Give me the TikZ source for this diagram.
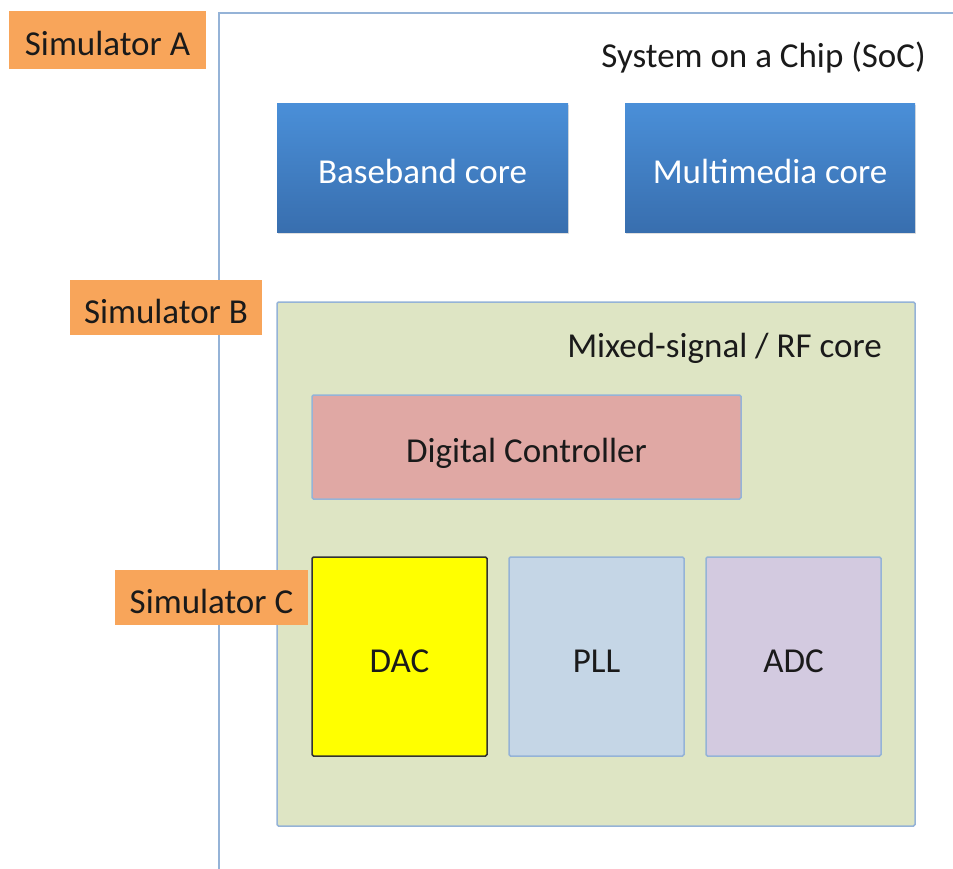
\documentclass[tikz,border=0pt]{standalone}
\usepackage{fontspec}
\setmainfont{Carlito}
\usetikzlibrary{shadows}
\definecolor{frameblue}{HTML}{95B3D7}
\definecolor{simorange}{HTML}{F8A55A}
\definecolor{mixgreen}{HTML}{DEE5C4}
\definecolor{ctrlpink}{HTML}{E0A8A4}
\definecolor{pllblue}{HTML}{C5D6E6}
\definecolor{adcpurple}{HTML}{D3CAE0}
\definecolor{coretop}{HTML}{4A8FD8}
\definecolor{corebot}{HTML}{386EAE}
\definecolor{dacyellow}{RGB}{255,255,0}
\definecolor{txt}{HTML}{1A1A1A}
\begin{document}
\begin{tikzpicture}[x=1pt,y=-1pt,
  capc/.style={text height=22.5pt, text depth=0pt},
  boxc/.style={text height=31pt, text depth=0pt},
  sim/.style={boxc, fill=simorange, draw=none, inner sep=0pt, font=\fontsize{35}{38}\selectfont, text=txt},
  core/.style={boxc, top color=coretop, bottom color=corebot, draw=none, text=white, inner sep=0pt,
    font=\fontsize{35}{38}\selectfont, drop shadow={opacity=0.25, shadow xshift=1pt, shadow yshift=-1.5pt}},
  blk/.style={boxc, draw=frameblue, line width=1.5pt, rounded corners=1.5pt, inner sep=0pt,
    font=\fontsize{35}{38}\selectfont, text=txt},
  lbl/.style={capc, font=\fontsize{35}{38}\selectfont, text=txt, inner sep=0pt}]
\useasboundingbox (0,0) rectangle (953,869);
\fill[white] (0,0) rectangle (953,869);
% SoC frame (open to the right and bottom)
\begin{scope}
\clip (0,0) rectangle (953,869);
\draw[frameblue, line width=2pt] (219,880) -- (219,13) -- (970,13);
\end{scope}
\node[lbl, anchor=east] (soc) at (926,56) {System on a Chip (SoC)};
% cores
\node[core, minimum width=291pt, minimum height=129pt] (bb) at (422.5,168.5) {Baseband core};
\node[core, minimum width=290pt, minimum height=129pt] (mm) at (770,168.5) {Multimedia core};
% mixed-signal box
\node[blk, fill=mixgreen, minimum width=638pt, minimum height=524pt] (mix) at (596,564) {};
\node[lbl, anchor=east] (mixl) at (882,346) {Mixed-signal / RF core};
\node[blk, fill=ctrlpink, minimum width=429pt, minimum height=104pt] (ctrl) at (526.5,447) {Digital Controller};
\node[blk, fill=dacyellow, draw=black!80, minimum width=175pt, minimum height=199pt] (dac) at (399.5,656.5) {DAC};
\node[blk, fill=pllblue, minimum width=175pt, minimum height=199pt] (pll) at (596.5,656.5) {PLL};
\node[blk, fill=adcpurple, minimum width=175pt, minimum height=199pt] (adc) at (793.5,656.5) {ADC};
% simulators
\node[sim, minimum width=197pt, minimum height=58pt] (sa) at (107.5,40) {Simulator A};
\node[sim, minimum width=192pt, minimum height=55pt] (sb) at (166,307.5) {Simulator B};
\node[sim, minimum width=193pt, minimum height=55pt] (sc) at (211.5,597.5) {Simulator C};
\end{tikzpicture}
\end{document}
